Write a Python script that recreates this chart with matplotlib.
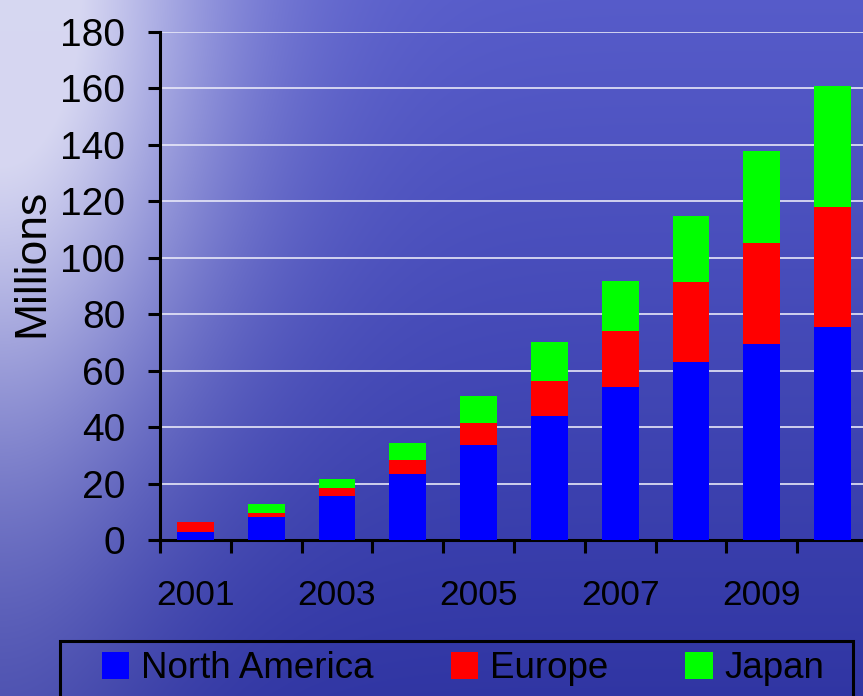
import numpy as np
import matplotlib
matplotlib.use('Agg')
import matplotlib.pyplot as plt
from matplotlib.patches import Rectangle, Patch

plt.rcParams['font.family'] = ['Liberation Sans', 'DejaVu Sans']

# dados (milhoes)
anos = ['2001', '2002', '2003', '2004', '2005', '2006', '2007', '2008', '2009', '2010']
north_america = [3, 8, 15.7, 23.4, 33.7, 43.9, 54.1, 63.0, 69.3, 75.6]
europe = [3.5, 1.5, 2.6, 4.9, 7.6, 12.6, 20.1, 28.3, 35.8, 42.3]
japan = [0, 3.3, 3.4, 6.2, 9.7, 13.8, 17.7, 23.6, 32.8, 43.1]
series = ['North America', 'Europe', 'Japan']
cores = ['#0000ff', '#ff0000', '#00ff00']
y_ticks = list(range(0, 181, 20))

W, H = 863, 696
fig = plt.figure(figsize=(W / 100, H / 100), dpi=100)

# fundo azul com brilho no canto superior esquerdo
bg = fig.add_axes([0, 0, 1, 1], zorder=-10)
xx, yy = np.meshgrid(np.linspace(0, 1, W), np.linspace(0, 1, H))
c_top = np.array([0.34, 0.36, 0.79])
c_bot = np.array([0.19, 0.21, 0.64])
base = c_top + (c_bot - c_top) * yy[..., None]
luz = np.array([0.88, 0.88, 0.96])
w = 0.95 * np.exp(-((xx / 0.26) ** 2 + (yy / 0.6) ** 2)) + 0.12 * np.exp(-(xx / 0.18) ** 2)
w = np.clip(w, 0, 0.93)[..., None]
img = base * (1 - w) + luz * w
bg.imshow(img, aspect='auto', extent=[0, 1, 0, 1], origin='upper')
bg.axis('off')

ax = fig.add_axes([160 / W, 1 - 540 / H, 708 / W, 508 / H])
ax.set_facecolor('none')

x = np.arange(len(anos))
largura = 0.52
ax.bar(x, north_america, largura, color=cores[0], zorder=3)
ax.bar(x, europe, largura, bottom=north_america, color=cores[1], zorder=3)
base2 = np.array(north_america) + np.array(europe)
ax.bar(x, japan, largura, bottom=base2, color=cores[2], zorder=3)

ax.set_xlim(-0.5, len(anos) - 0.5)
ax.set_ylim(0, 180)
ax.set_yticks(y_ticks)
ax.set_yticklabels([str(v) for v in y_ticks], fontsize=28)
for v in y_ticks[1:]:
    ax.axhline(v, color='#e8e8f8', linewidth=1.4, alpha=0.85, zorder=1)

# ticks maiores nas divisoes, rotulos so nos anos impares
ax.set_xticks(np.arange(-0.5, len(anos), 1))
ax.set_xticklabels([])
ax.set_xticks(x[::2], minor=True)
ax.set_xticklabels(anos[::2], minor=True, fontsize=25.5)
ax.tick_params(axis='x', which='major', direction='out', length=9, width=2.2)
ax.tick_params(axis='x', which='minor', length=0, pad=28)
ax.tick_params(axis='y', direction='out', length=9, width=2.2, pad=16)

for s in ['top', 'right']:
    ax.spines[s].set_visible(False)
for s in ['left', 'bottom']:
    ax.spines[s].set_linewidth(2.2)

fig.text(32 / W, 1 - 263 / H, 'Millions', rotation=90, fontsize=32,
         ha='center', va='center')

# caixa da legenda
fig.patches.append(Rectangle((60 / W, -0.05), 793 / W, 0.05 + 1 - 641 / H,
                             transform=fig.transFigure, fill=False,
                             edgecolor='black', linewidth=2.2))
handles = [Patch(facecolor=c, edgecolor='none') for c in cores]
fig.legend(handles, series, loc='center left', bbox_to_anchor=(102 / W, 1 - 669 / H),
           ncol=3, frameon=False, fontsize=26.5, handlelength=0.74, handleheight=0.74,
           handletextpad=0.32, columnspacing=2.1, borderpad=0, borderaxespad=0)

plt.savefig('out.png', dpi=100)
